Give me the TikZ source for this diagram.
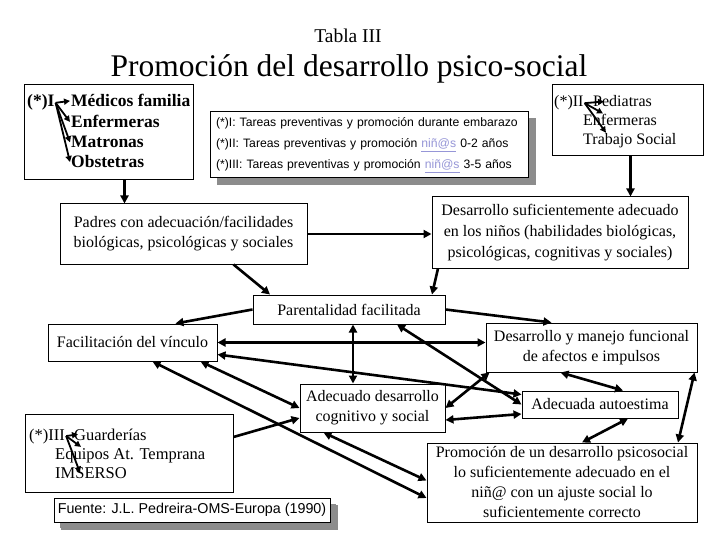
\documentclass[tikz,border=0pt]{standalone}
\usepackage{fontspec}
\setmainfont{Liberation Serif}
\setsansfont{Liberation Sans}
\usetikzlibrary{arrows.meta,shadows,calc}

\definecolor{sombragris}{RGB}{140,140,140}
\definecolor{enlace}{RGB}{150,150,215}
\newcommand{\enlace}[1]{\textcolor{enlace}{\underline{#1}}}

\tikzset{
  caja/.style={draw, line width=1pt, fill=white, align=center, inner sep=0pt},
  sombra/.style={caja, general shadow={fill=sombragris, draw=sombragris, shadow xshift=7pt, shadow yshift=-7pt}},
  texto/.style={font=\fontsize{16}{20}\selectfont},
  item/.style={inner sep=1pt, anchor=base west},
  flecha/.style={line width=2.6pt, -{Triangle[length=8pt,width=8pt]}},
  dflecha/.style={line width=2.6pt, {Triangle[length=8pt,width=8pt]}-{Triangle[length=8pt,width=8pt]}},
  fina/.style={line width=1.8pt, -{Triangle[length=6pt,width=6pt]}}
}

\begin{document}
\begin{tikzpicture}[x=1pt,y=-1pt]
\useasboundingbox (0,0) rectangle (720,540);

% titulos
\node[anchor=base, font=\fontsize{19.5}{20}\selectfont] (tabla) at (348,43) {Tabla III};
\node[anchor=base, font=\fontsize{31.5}{32}\selectfont] (titulo) at (349,77) {Promoción del desarrollo psico-social};

% cajas
\node[caja, minimum width=169pt, minimum height=95pt] (cajaI) at (108.5,132.5) {};
\node[sombra, text width=306pt, inner xsep=6pt, minimum height=66pt, align=left,
      font=\sffamily\fontsize{12.2}{21}\selectfont] (leyenda) at (369,145)
  {(*)I: Tareas preventivas y promoción durante embarazo\\
   (*)II: Tareas preventivas y promoción \enlace{niñ@s} 0-2 años\\
   (*)III: Tareas preventivas y promoción \enlace{niñ@s} 3-5 años};
\node[caja, minimum width=151pt, minimum height=71pt] (cajaII) at (627.5,120.5) {};
\node[caja, minimum width=256pt, minimum height=71pt, font=\fontsize{16}{21}\selectfont] (dsuf) at (560,232.5)
  {Desarrollo suficientemente adecuado\\en los niños (habilidades biológicas,\\psicológicas, cognitivas y sociales)};
\node[caja, texto, minimum width=247pt, minimum height=60pt] (padres) at (183.5,234)
  {Padres con adecuación/facilidades\\biológicas, psicológicas y sociales};
\node[caja, texto, minimum width=192pt, minimum height=29pt] (parent) at (349,309.5) {Parentalidad facilitada};
\node[caja, texto, minimum width=169pt, minimum height=37pt] (facil) at (132.5,342.5) {Facilitación del vínculo};
\node[caja, texto, minimum width=211pt, minimum height=49pt] (dman) at (591.5,347.5)
  {Desarrollo y manejo funcional\\de afectos e impulsos};
\node[caja, texto, minimum width=145pt, minimum height=48pt] (adesa) at (372.5,408)
  {Adecuado desarrollo\\cognitivo y social};
\node[caja, texto, minimum width=156pt, minimum height=27pt] (aaut) at (600,404.5) {Adecuada autoestima};
\node[caja, texto, minimum width=270pt, minimum height=79pt] (prom) at (562,482.5)
  {Promoción de un desarrollo psicosocial\\lo suficientemente adecuado en el\\niñ@ con un ajuste social lo\\suficientemente correcto};
\node[caja, minimum width=208pt, minimum height=78pt] (cajaIII) at (129,453) {};
\node[sombra, minimum width=276pt, minimum height=24pt, general shadow={fill=sombragris, shadow xshift=6pt, shadow yshift=-6pt},
      font=\sffamily\fontsize{14.3}{16}\selectfont] (fuente) at (192,510) {Fuente: J.L. Pedreira-OMS-Europa (1990)};

% (*)I
\begin{scope}[font=\bfseries\fontsize{17.5}{20}\selectfont]
\node[item] (oI) at (26,107) {(*)I};
\node[item] (medI) at (70,107) {Médicos familia};
\node[item] (enfI) at (70,128) {Enfermeras};
\node[item] (matI) at (70,148) {Matronas};
\node[item] (obsI) at (70,168) {Obstetras};
\end{scope}
\draw[fina] (oI.east) -- (medI.west);
\draw[fina] (oI.east) -- (enfI.west);
\draw[fina] (oI.east) -- (matI.west);
\draw[fina] (oI.east) -- (obsI.west);

% (*)II
\begin{scope}[font=\fontsize{16}{18}\selectfont]
\node[item] (oII) at (553,107) {(*)II};
\node[item] (pedII) at (592,107) {Pediatras};
\node[item] (enfII) at (582,126) {Enfermeras};
\node[item] (trabII) at (582,145) {Trabajo Social};
\end{scope}
\draw[fina] (oII.east) -- ([xshift=12pt]pedII.west);
\draw[fina] (oII.east) -- ([xshift=21pt]enfII.north west);
\draw[fina] (oII.east) -- ([xshift=24pt]trabII.north west);

% (*)III
\begin{scope}[font=\fontsize{16.5}{18}\selectfont]
\node[item] (oIII) at (28,440) {(*)III};
\node[item] (guaIII) at (73,440) {Guarderías};
\node[item] (equIII) at (54,459) {Equipos At. Temprana};
\node[item] (imsIII) at (54,478) {IMSERSO};
\end{scope}
\draw[fina] (oIII.east) -- ([xshift=5pt]guaIII.west);
\draw[fina] (oIII.east) -- ([xshift=27pt]equIII.north west);
\draw[fina] (oIII.east) -- ([xshift=26pt]imsIII.west);

% conectores
\draw[flecha] ([xshift=16pt]cajaI.south) -- ([xshift=16pt]cajaI.south |- padres.north);
\draw[flecha] ([xshift=3pt]cajaII.south) -- ([xshift=3pt]cajaII.south |- dsuf.north);
\draw[flecha] (padres.east) -- (padres.east -| dsuf.west);
\draw[flecha] ([xshift=50pt]padres.south) -- ([xshift=-79pt]parent.north);
\draw[flecha] ([xshift=-122pt]dsuf.south) -- ([xshift=83pt]parent.north);
\draw[flecha] (parent.west) -- ([xshift=43pt]facil.north);
\draw[flecha] (parent.east) -- ([xshift=-40pt]dman.north);
\draw[dflecha] (facil.east) -- (facil.east -| dman.west);
\draw[dflecha] ([xshift=4pt]parent.south) -- ([xshift=4pt]parent.south |- adesa.north);
\draw[dflecha] ([yshift=-12pt]facil.east) -- ([yshift=-4pt]aaut.north west);
\draw[dflecha] ([xshift=48pt]parent.south) -- (aaut.west);
\draw[dflecha] (adesa.east) -- ([xshift=4pt]dman.south west);
\draw[dflecha] ([yshift=-12pt]adesa.east) -- ([yshift=-9.5pt]aaut.west);
\draw[dflecha] ([xshift=-31pt]dman.south) -- ([xshift=23pt]aaut.north);
\draw[dflecha] ([xshift=68pt]facil.south) -- (adesa.west);
\draw[dflecha] ([xshift=20pt]facil.south) -- ([yshift=-15.5pt]prom.west);
\draw[dflecha] ([xshift=-49pt]adesa.south) -- ([yshift=2pt]prom.west);
\draw[flecha] ([yshift=16pt]cajaIII.east) -- ([yshift=-10pt]adesa.west);
\draw[dflecha] ([xshift=28pt]aaut.south) -- ([xshift=20pt]prom.north);
\draw[dflecha] ([xshift=116pt]prom.north) -- ([xshift=-3pt]dman.south east);
\end{tikzpicture}
\end{document}
